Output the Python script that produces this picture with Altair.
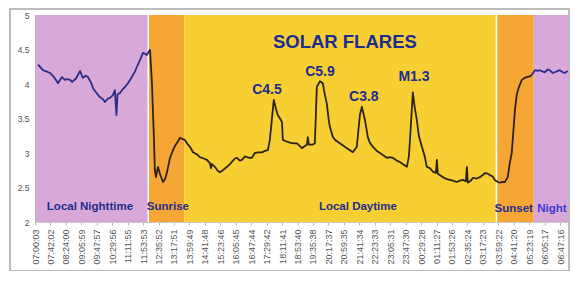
import altair as alt
import pandas as pd

# ---- axis labels (35 category ticks, every 41:59) ----
tick_labels = ["07:00:03", "07:42:02", "08:24:00", "09:05:59", "09:47:57", "10:29:56",
               "11:11:55", "11:53:53", "12:35:52", "13:17:51", "13:59:49", "14:41:48",
               "15:23:46", "16:05:45", "16:47:44", "17:29:42", "18:11:41", "18:53:40",
               "19:35:38", "20:17:37", "20:59:35", "21:41:34", "22:23:33", "23:05:31",
               "23:47:30", "00:29:28", "01:11:27", "01:53:26", "02:35:24", "03:17:23",
               "03:59:22", "04:41:20", "05:23:19", "06:05:17", "06:47:16"]
tick_step_h = 0.69972          # 41 min 59 s, in hours since 07:00:03
y_ticks = [2, 2.5, 3, 3.5, 4, 4.5, 5]

# ---- background periods (hours since start) ----
band_phase = ["Local Nighttime", "Sunrise", "Local Daytime", "Sunset", "Night"]
band_start = [0.0, 5.13, 6.76, 20.91, 22.60]
band_end = [5.13, 6.76, 20.91, 22.60, 24.15]
separators = [5.13, 20.91]

# ---- VLF signal (hours since start, signal level) ----
night1_h = [0.14, 0.36, 0.54, 0.68, 0.86, 1.04, 1.22, 1.36, 1.45, 1.59, 1.68, 1.86, 2.04,
            2.17, 2.31, 2.40, 2.54, 2.63, 2.76, 2.94, 3.08, 3.17, 3.31, 3.40, 3.53, 3.62,
            3.69, 3.74, 3.85, 3.99, 4.08, 4.21, 4.35, 4.44, 4.53, 4.62, 4.76, 4.89, 4.98,
            5.07, 5.16, 5.21]
night1_v = [4.28, 4.20, 4.18, 4.16, 4.10, 4.01, 4.10, 4.06, 4.07, 4.06, 4.03, 4.08, 4.19,
            4.09, 4.12, 4.10, 4.02, 3.94, 3.88, 3.81, 3.78, 3.74, 3.79, 3.80, 3.84, 3.91,
            3.55, 3.85, 3.87, 3.93, 3.96, 4.01, 4.08, 4.13, 4.18, 4.25, 4.35, 4.45, 4.44,
            4.42, 4.47, 4.50]

day_h = [5.21, 5.30, 5.39, 5.43, 5.48, 5.57, 5.66, 5.80, 5.89, 5.98, 6.11,
         6.25, 6.34, 6.48, 6.57, 6.70, 6.79, 6.93, 7.02, 7.16, 7.34, 7.47, 7.65, 7.79,
         7.93, 7.97, 8.02, 8.15, 8.29, 8.38, 8.51, 8.70, 8.83, 8.92, 9.06, 9.15, 9.28,
         9.38, 9.51, 9.60, 9.74, 9.83, 9.96, 10.10, 10.28, 10.42, 10.55, 10.64, 10.73,
         10.82, 10.91, 11.00, 11.10, 11.19, 11.23, 11.37, 11.55, 11.73, 11.87, 12.00,
         12.09, 12.23, 12.32, 12.36, 12.41, 12.55, 12.68, 12.77, 12.91, 13.04, 13.13,
         13.22, 13.31, 13.36, 13.50, 13.63, 13.81, 13.99, 14.13, 14.27, 14.40, 14.58,
         14.72, 14.81, 14.95, 15.08, 15.17, 15.31, 15.49, 15.63, 15.81, 15.94, 16.08,
         16.21, 16.39, 16.53, 16.71, 16.85, 16.94, 16.98, 17.12, 17.21, 17.30, 17.39,
         17.53, 17.66, 17.75, 17.89, 18.03, 18.16, 18.21, 18.25, 18.39, 18.48, 18.66,
         18.80, 18.93, 19.11, 19.25, 19.38, 19.52, 19.57, 19.61, 19.75, 19.84, 20.02,
         20.15, 20.29, 20.38, 20.52, 20.61, 20.74, 20.83, 20.97, 21.06, 21.20, 21.29,
         21.42, 21.51, 21.60, 21.69, 21.74, 21.83, 21.92, 22.06, 22.19, 22.28, 22.42,
         22.51]
day_v = [4.50, 4.00, 3.20, 2.75, 2.65, 2.80, 2.70, 2.58, 2.62, 2.72, 2.92,
         3.04, 3.10, 3.17, 3.22, 3.20, 3.19, 3.12, 3.09, 3.01, 2.98, 2.94, 2.92, 2.90,
         2.85, 2.78, 2.84, 2.80, 2.74, 2.72, 2.75, 2.80, 2.84, 2.87, 2.92, 2.93, 2.89,
         2.90, 2.95, 2.94, 2.93, 2.93, 3.00, 3.01, 3.01, 3.03, 3.04, 3.19, 3.48,
         3.77, 3.65, 3.55, 3.50, 3.45, 3.19, 3.17, 3.15, 3.14, 3.14, 3.10,
         3.07, 3.10, 3.12, 3.23, 3.12, 3.12, 3.14, 3.96, 4.04, 4.01, 3.85,
         3.72, 3.48, 3.38, 3.23, 3.18, 3.14, 3.10, 3.07, 3.04, 3.01, 3.09,
         3.55, 3.67, 3.48, 3.23, 3.15, 3.09, 3.03, 3.00, 2.96, 2.93, 2.94,
         2.93, 2.89, 2.87, 2.83, 2.80, 2.95, 3.14, 3.88, 3.65, 3.48, 3.25,
         3.09, 2.95, 2.80, 2.78, 2.73, 2.71, 2.90, 2.70, 2.67, 2.65, 2.62,
         2.61, 2.60, 2.58, 2.60, 2.61, 2.59, 2.80, 2.57, 2.60, 2.64, 2.63,
         2.65, 2.68, 2.71, 2.70, 2.68, 2.66, 2.61, 2.58, 2.57, 2.58, 2.58,
         2.65, 2.85, 3.00, 3.38, 3.60, 3.85, 3.95, 4.06, 4.09, 4.10, 4.11,
         4.13]

night2_h = [22.51, 22.65, 22.78, 22.87, 23.01, 23.10, 23.23, 23.32, 23.46, 23.55, 23.69,
            23.78, 23.91, 24.00, 24.14]
night2_v = [4.13, 4.20, 4.19, 4.20, 4.18, 4.17, 4.21, 4.20, 4.16, 4.17, 4.19, 4.20, 4.17,
            4.16, 4.19]

# ---- annotations ----
flare_names = ["C4.5", "C5.9", "C3.8", "M1.3"]
flare_h = [10.51, 12.91, 14.90, 17.17]
flare_v = [3.91, 4.17, 3.81, 4.10]
title_text = "SOLAR FLARES"
title_h, title_v = 14.04, 4.61
period_names = ["Local Nighttime", "Sunrise", "Local Daytime", "Sunset", "Night"]
period_h = [2.49, 6.02, 14.63, 21.69, 23.42]
period_v = [2.22, 2.22, 2.22, 2.19, 2.19]

# ---------------------------------------------------------------
FONT = "Liberation Sans"
W, H = 533, 207
x_scale = alt.Scale(domain=[0, 24.15], nice=False, zero=False)
y_scale = alt.Scale(domain=[2, 5], nice=False, zero=False)

tick_values = [round(i * tick_step_h, 5) for i in range(len(tick_labels))]
label_js = "[" + ",".join("'%s'" % s for s in tick_labels) + "]"
label_expr = label_js + "[round(datum.value / %s)]" % tick_step_h

x_axis = alt.Axis(values=tick_values, labelExpr=label_expr, labelAngle=270,
                  labelAlign="right", labelBaseline="middle", labelFontSize=9,
                  labelColor="#555", labelFont=FONT, labelPadding=4,
                  tickSize=3, tickColor="#bbb", domainColor="#c8c8c8",
                  grid=False, title=None, labelOverlap=False, labelBound=False,
                  labelFlush=False)
y_axis = alt.Axis(values=y_ticks, format="~g", labelFontSize=8.5,
                  labelColor="#555", labelFont=FONT, labelPadding=6,
                  tickSize=0, domainColor="#c8c8c8", grid=True,
                  gridColor="#7a6a50", gridOpacity=0.25, title=None,
                  labelOverlap=False)

bands = pd.DataFrame({"phase": band_phase, "start": band_start, "end": band_end,
                      "lo": [2] * 5, "hi": [5] * 5})
band_layer = alt.Chart(bands).mark_rect().encode(
    x=alt.X("start:Q", scale=x_scale, axis=x_axis),
    x2="end:Q",
    y=alt.Y("lo:Q", scale=y_scale, axis=y_axis),
    y2="hi:Q",
    fill=alt.Fill("phase:N", legend=None,
                  scale=alt.Scale(domain=band_phase,
                                  range=["#D8A9D8", "#F6A634", "#F8CF33", "#F6A634", "#D8A9D8"])),
)

sep_layer = alt.Chart(pd.DataFrame({"h": separators})).mark_rule(
    color="white", strokeWidth=1.5).encode(x=alt.X("h:Q", scale=x_scale, axis=x_axis))

sig = pd.concat([
    pd.DataFrame({"h": night1_h, "v": night1_v, "seg": "night1"}),
    pd.DataFrame({"h": day_h, "v": day_v, "seg": "day"}),
    pd.DataFrame({"h": night2_h, "v": night2_v, "seg": "night2"}),
])
line_layer = alt.Chart(sig).mark_line(strokeWidth=1.8, strokeJoin="round").encode(
    x=alt.X("h:Q", scale=x_scale, axis=x_axis),
    y=alt.Y("v:Q", scale=y_scale, axis=y_axis),
    stroke=alt.Stroke("seg:N", legend=None,
                      scale=alt.Scale(domain=["night1", "day", "night2"],
                                      range=["#2C2C88", "#2E2416", "#2C2C98"])),
    order="h:Q",
)

title_layer = alt.Chart(pd.DataFrame({"t": [title_text], "h": [title_h], "v": [title_v]})).mark_text(
    font=FONT, fontWeight="bold", fontSize=18.5, color="#1B2D8F", baseline="middle").encode(
    x=alt.X("h:Q", scale=x_scale, axis=x_axis), y=alt.Y("v:Q", scale=y_scale, axis=y_axis),
    text="t:N")

flare_layer = alt.Chart(pd.DataFrame({"t": flare_names, "h": flare_h, "v": flare_v})).mark_text(
    font=FONT, fontWeight="bold", fontSize=14, color="#1B2D8F", baseline="middle").encode(
    x=alt.X("h:Q", scale=x_scale, axis=x_axis), y=alt.Y("v:Q", scale=y_scale, axis=y_axis),
    text="t:N")

period_layer = alt.Chart(pd.DataFrame({"t": period_names, "h": period_h, "v": period_v})).mark_text(
    font=FONT, fontWeight="bold", fontSize=11.5, baseline="middle").encode(
    x=alt.X("h:Q", scale=x_scale, axis=x_axis), y=alt.Y("v:Q", scale=y_scale, axis=y_axis),
    text="t:N",
    color=alt.Color("t:N", legend=None,
                    scale=alt.Scale(domain=period_names,
                                    range=["#1B2D8F", "#1B2D8F", "#1B2D8F", "#1B2D8F", "#3A3AD0"])))

frame_layer = alt.Chart(pd.DataFrame({"a": [0]})).mark_rect(
    fill="white", fillOpacity=0, stroke="#a8a8a8", strokeWidth=1.5).encode(
    x=alt.value(-25), x2=alt.value(534), y=alt.value(-6), y2=alt.value(256))

chart = alt.layer(
    band_layer, sep_layer, line_layer, title_layer, flare_layer, period_layer, frame_layer
).resolve_scale(color="independent").properties(
    width=W, height=H,
    autosize=alt.AutoSizeParams(type="none"),
    padding={"left": 27, "top": 7, "right": 2, "bottom": 49},
).configure_view(stroke=None).configure_axis(
    labelOverlap=False, labelBound=False
).configure(background="white")

chart.save("out.html", embed_options={"renderer": "svg", "actions": False})
